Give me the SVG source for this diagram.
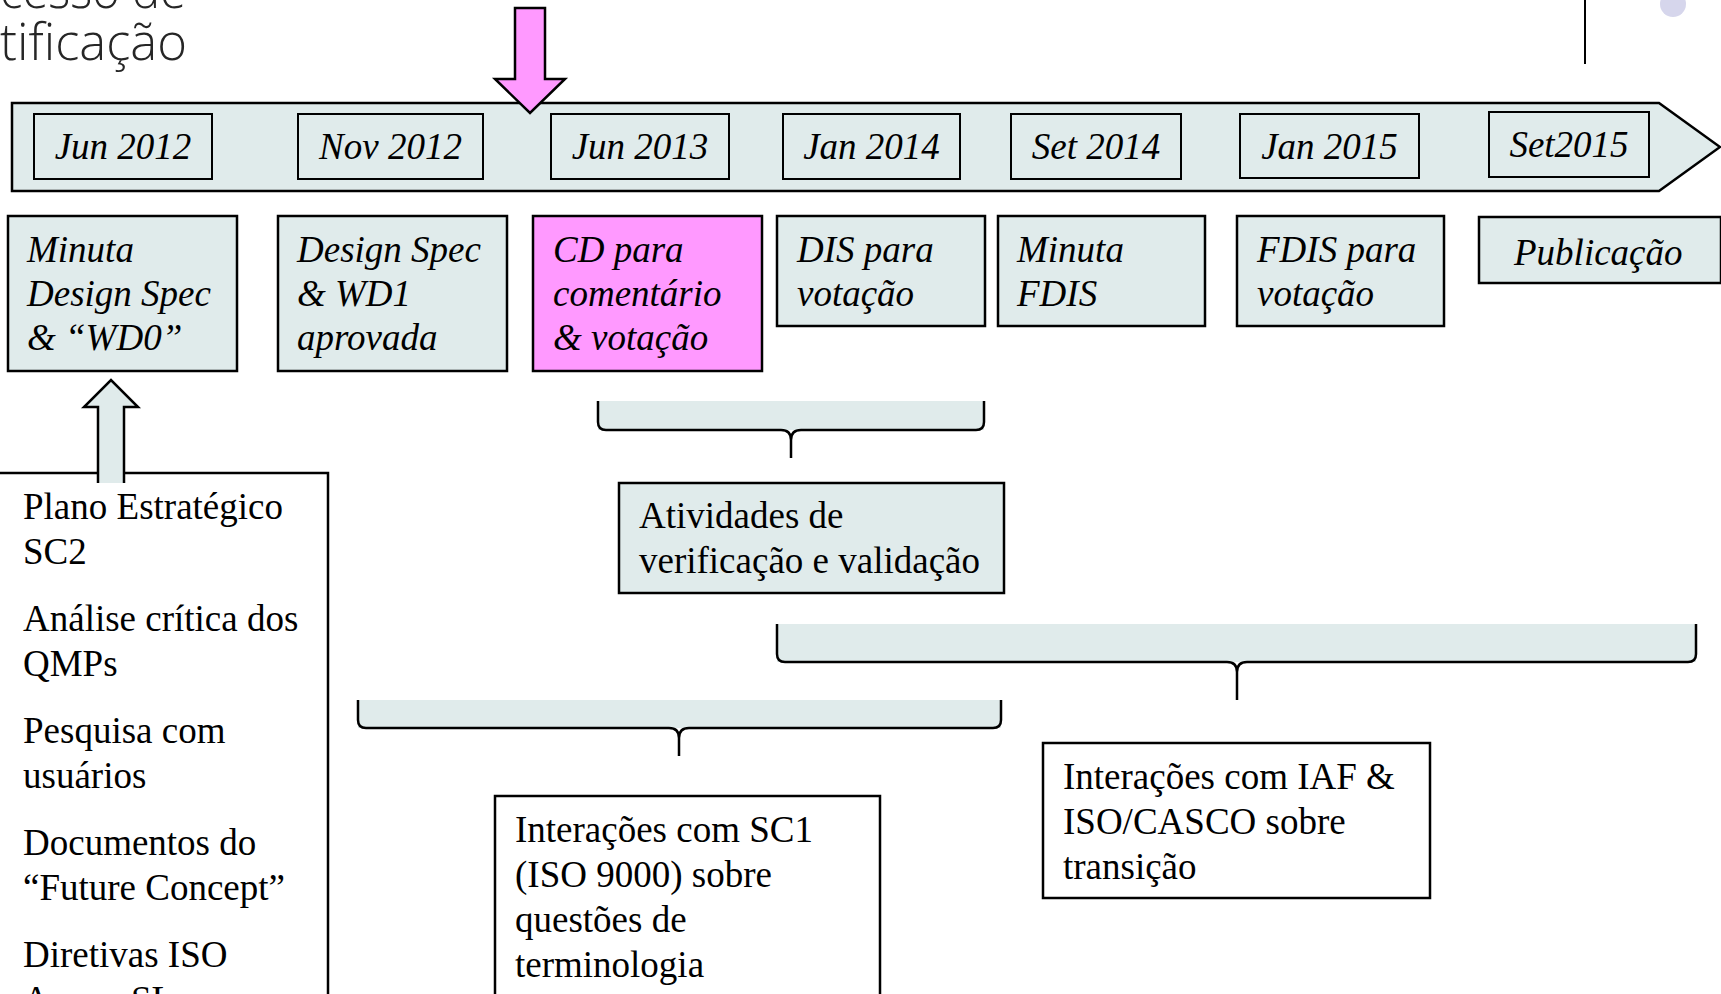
<svg xmlns="http://www.w3.org/2000/svg" width="1721" height="994" viewBox="0 0 1721 994">
<style>
.bg{fill:#ffffff}
.band{fill:#e0ebeb;stroke:#000;stroke-width:2.5}
.date{fill:none;stroke:#000;stroke-width:2}
.node{fill:#e0ebeb;stroke:#000;stroke-width:2.5}
.pink{fill:#ff99ff;stroke:#000;stroke-width:2.5}
.white{fill:#ffffff;stroke:#000;stroke-width:2.5}
.it{font-family:"Liberation Serif","Times New Roman",serif;font-style:italic;font-size:37px;fill:#000}
.rm{font-family:"Liberation Serif","Times New Roman",serif;font-size:37px;fill:#000}
.title{font-family:"Open Sans","DejaVu Sans",sans-serif;font-weight:300;font-size:52px;fill:#262626}
.bfill{fill:#e0ebeb;stroke:none}
.brace{fill:none;stroke:#000;stroke-width:2.5;stroke-linejoin:round}
</style>
<rect class="bg" x="0" y="0" width="1721" height="994"/>

<g id="title">
<text class="title" x="0" y="8" textLength="186" lengthAdjust="spacingAndGlyphs">cesso de</text>
<text class="title" x="0" y="60" textLength="187" lengthAdjust="spacingAndGlyphs">tificação</text>
</g>
<g id="decor">
<line x1="1585" y1="0" x2="1585" y2="64" stroke="#000" stroke-width="2"/>
<circle cx="1673" cy="4" r="13" fill="#d6d6ec"/>
</g>

<g id="timeline">
<path class="band" d="M12,103 L1659,103 L1720,147 L1659,191 L12,191 Z"/>
</g>
<g id="date-jun2012"><rect class="date" x="34" y="114" width="178" height="65"/><text class="it" x="123" y="159" text-anchor="middle">Jun 2012</text></g>
<g id="date-nov2012"><rect class="date" x="298" y="114" width="185" height="65"/><text class="it" x="390.5" y="159" text-anchor="middle">Nov 2012</text></g>
<g id="date-jun2013"><rect class="date" x="551" y="114" width="178" height="65"/><text class="it" x="640" y="159" text-anchor="middle">Jun 2013</text></g>
<g id="date-jan2014"><rect class="date" x="783" y="114" width="177" height="65"/><text class="it" x="871.5" y="159" text-anchor="middle">Jan 2014</text></g>
<g id="date-set2014"><rect class="date" x="1011" y="114" width="170" height="65"/><text class="it" x="1096" y="159" text-anchor="middle">Set 2014</text></g>
<g id="date-jan2015"><rect class="date" x="1240" y="114" width="179" height="64"/><text class="it" x="1329.5" y="159" text-anchor="middle">Jan 2015</text></g>
<g id="date-set2015"><rect class="date" x="1489" y="112" width="160" height="65"/><text class="it" x="1569" y="157" text-anchor="middle">Set2015</text></g>

<g id="pink-arrow">
<path class="pink" d="M515,8 L545,8 L545,79 L565,79 L530,113 L495,79 L515,79 Z"/>
</g>

<g id="node-minuta">
<rect class="node" x="8" y="216" width="229" height="155"/>
<text class="it" x="27" y="262">Minuta</text>
<text class="it" x="27" y="306">Design Spec</text>
<text class="it" x="27" y="350">&amp; “WD0”</text>
</g>
<g id="node-designspec">
<rect class="node" x="278" y="216" width="229" height="155"/>
<text class="it" x="297" y="262">Design Spec</text>
<text class="it" x="297" y="306">&amp; WD1</text>
<text class="it" x="297" y="350">aprovada</text>
</g>
<g id="node-cd">
<rect class="pink" x="533" y="216" width="229" height="155"/>
<text class="it" x="553" y="262">CD para</text>
<text class="it" x="553" y="306">comentário</text>
<text class="it" x="553" y="350">&amp; votação</text>
</g>
<g id="node-dis">
<rect class="node" x="777" y="216" width="208" height="110"/>
<text class="it" x="797" y="262">DIS para</text>
<text class="it" x="797" y="306">votação</text>
</g>
<g id="node-minutafdis">
<rect class="node" x="998" y="216" width="207" height="110"/>
<text class="it" x="1017" y="262">Minuta</text>
<text class="it" x="1017" y="306">FDIS</text>
</g>
<g id="node-fdis">
<rect class="node" x="1237" y="216" width="207" height="110"/>
<text class="it" x="1257" y="262">FDIS para</text>
<text class="it" x="1257" y="306">votação</text>
</g>
<g id="node-publicacao">
<rect class="node" x="1479" y="217" width="242" height="66"/>
<text class="it" x="1514" y="265">Publicação</text>
</g>

<g id="node-inputs">
<rect class="white" x="-3" y="473" width="331" height="530"/>
<text class="rm" x="23" y="519">Plano Estratégico</text>
<text class="rm" x="23" y="564">SC2</text>
<text class="rm" x="23" y="631">Análise crítica dos</text>
<text class="rm" x="23" y="676">QMPs</text>
<text class="rm" x="23" y="743">Pesquisa com</text>
<text class="rm" x="23" y="788">usuários</text>
<text class="rm" x="23" y="855">Documentos do</text>
<text class="rm" x="23" y="900">“Future Concept”</text>
<text class="rm" x="23" y="967">Diretivas ISO</text>
<text class="rm" x="23" y="1012">Anexo SL</text>
</g>

<g id="node-atividades">
<rect class="node" x="619" y="483" width="385" height="110"/>
<text class="rm" x="639" y="528">Atividades de</text>
<text class="rm" x="639" y="573">verificação e validação</text>
</g>

<g id="node-sc1">
<rect class="white" x="495" y="796" width="385" height="210"/>
<text class="rm" x="515" y="842">Interações com SC1</text>
<text class="rm" x="515" y="887">(ISO 9000) sobre</text>
<text class="rm" x="515" y="932">questões de</text>
<text class="rm" x="515" y="977">terminologia</text>
</g>

<g id="node-iaf">
<rect class="white" x="1043" y="743" width="387" height="155"/>
<text class="rm" x="1063" y="789">Interações com IAF &amp;</text>
<text class="rm" x="1063" y="834">ISO/CASCO sobre</text>
<text class="rm" x="1063" y="879">transição</text>
</g>

<g id="connectors">
<path d="M98,483 L98,407 L84,407 L111,380 L138,407 L124,407 L124,483" fill="#e0ebeb" stroke="#000" stroke-width="2.5" stroke-linejoin="miter"/>

<rect class="bfill" x="598" y="401" width="386" height="29"/>
<path class="brace" d="M598,401 L598,422 Q598,430 606,430 L781,430 Q791,430 791,440 L791,458 M791,458 L791,440 Q791,430 801,430 L976,430 Q984,430 984,422 L984,401"/>

<rect class="bfill" x="777" y="624" width="919" height="38"/>
<path class="brace" d="M777,624 L777,654 Q777,662 785,662 L1227,662 Q1237,662 1237,672 L1237,700 M1237,700 L1237,672 Q1237,662 1247,662 L1688,662 Q1696,662 1696,654 L1696,624"/>

<rect class="bfill" x="358" y="700" width="643" height="28"/>
<path class="brace" d="M358,700 L358,720 Q358,728 366,728 L669,728 Q679,728 679,738 L679,756 M679,756 L679,738 Q679,728 689,728 L993,728 Q1001,728 1001,720 L1001,700"/>
</g>
</svg>
